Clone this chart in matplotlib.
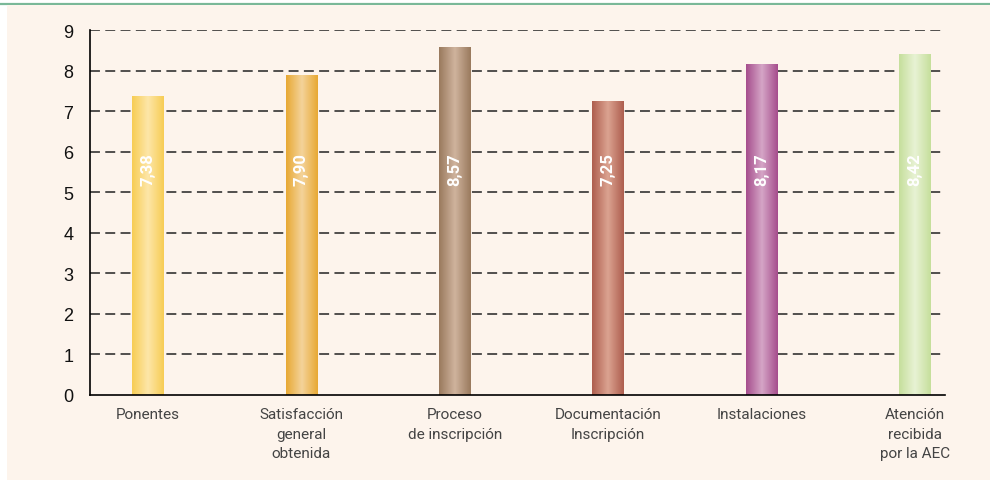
import numpy as np
import matplotlib.pyplot as plt
from matplotlib.patches import Rectangle
from matplotlib.colors import LinearSegmentedColormap
from matplotlib.lines import Line2D

# Data
categories = ['Ponentes', 'Satisfacción\ngeneral\nobtenida', 'Proceso\nde inscripción',
              'Documentación\nInscripción', 'Instalaciones', 'Atención\nrecibida\npor la AEC']
values = [7.38, 7.90, 8.57, 7.25, 8.17, 8.42]
labels = ['7,38', '7,90', '8,57', '7,25', '8,17', '8,42']
edge_colors = ['#f7cd55', '#e8a934', '#9a7a5e', '#ae5e4e', '#a64e8d', '#c6df9c']
mid_colors = ['#fde6a8', '#f4d39a', '#cfb39d', '#dba391', '#d5a5c6', '#e8f2d4']

fig = plt.figure(figsize=(9.9, 4.81), dpi=100)
fig.patch.set_facecolor('white')
fig.patches.append(Rectangle((7 / 990, 0), 983 / 990, 475 / 481, transform=fig.transFigure,
                             facecolor='#fdf4ec', edgecolor='none', zorder=-1))
fig.lines.append(Line2D([0, 1], [1 - 4.5 / 481] * 2, transform=fig.transFigure,
                        color='#7ab898', lw=1.6, zorder=-1))

ax = fig.add_axes([90 / 990, 85 / 481, 855 / 990, 365 / 481])
ax.set_zorder(1)
ax.set_facecolor('none')
x = np.arange(len(values))
w = 0.205

for yv in range(1, 10):
    ax.axhline(yv, color='#222222', lw=1.1, ls=(0, (6.5, 3.5)), zorder=1)

grad = np.abs(np.linspace(-1, 1, 64))[None, :]
for i, v in enumerate(values):
    bar = ax.bar(x[i], v, width=w, color='none', edgecolor='none', zorder=2)[0]
    cmap = LinearSegmentedColormap.from_list('g', [mid_colors[i], edge_colors[i]])
    im = ax.imshow(grad, cmap=cmap, aspect='auto', zorder=2,
                   extent=[x[i] - w / 2, x[i] + w / 2, 0, v], vmin=0, vmax=1)
    im.set_clip_path(bar)
    ax.text(x[i], 5.58, labels[i], rotation=90, ha='center', va='center',
            color='white', fontsize=12, fontweight='bold', family='Roboto', zorder=3)

ax.set_xlim(-0.378, 5.196)
ax.set_ylim(0, 9)
for s in ['top', 'right']:
    ax.spines[s].set_visible(False)
ax.spines['left'].set_linewidth(1.2)
ax.spines['bottom'].set_linewidth(1.2)
ax.spines['left'].set_zorder(4)
ax.spines['bottom'].set_zorder(4)

ax.set_yticks(range(0, 10))
ax.set_yticklabels([str(t) for t in range(0, 10)], family='Liberation Sans', fontsize=13,
                   color='#111111')
ax.tick_params(axis='y', length=0, pad=12)
ax.set_xticks(x)
ax.set_xticklabels(categories, fontsize=11, family='Roboto', color='#444444', linespacing=1.5)
ax.tick_params(axis='x', length=0, pad=9)

fig.savefig('out.png', dpi=100)
